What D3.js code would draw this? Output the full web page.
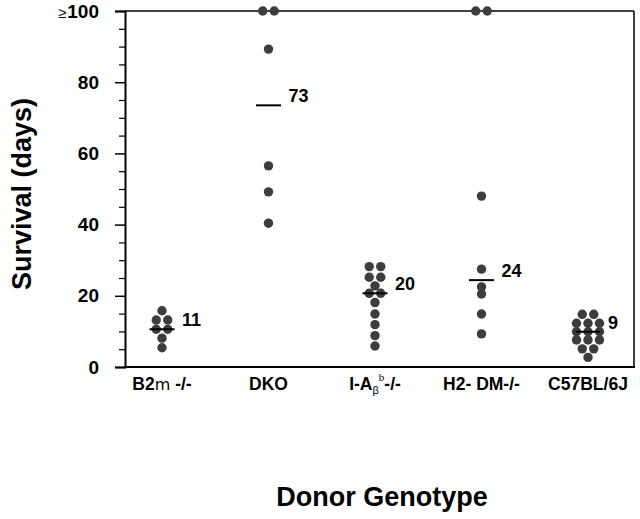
<!DOCTYPE html>
<html><head><meta charset="utf-8">
<script src="https://cdn.jsdelivr.net/npm/d3@7"></script>
<style>
body{margin:0;background:#fff}
svg text{font-family:"Liberation Sans",Arial,Helvetica,sans-serif;font-weight:bold;fill:#000}
</style>
</head><body>
<svg id="chart" width="640" height="519"></svg>
<script>
// ---- data ----
const categories = ["B2m -/-", "DKO", "I-Ab-/-", "H2- DM-/-", "C57BL/6J"];
const b2mValues  = [15.8, 13.2, 13.2, 10.6, 10.6, 8.1, 5.4];
const dkoValues  = [100, 100, 89.3, 56.5, 49.2, 40.4];
const iabValues  = [28.2, 28.2, 25.2, 25.2, 22.8, 20.7, 20.7, 18.1, 14.9, 11.9, 8.8, 5.9];
const h2dmValues = [100, 100, 48, 27.5, 22.5, 20.5, 14.9, 9.3];
const c57Values  = [14.8, 14.8, 12.3, 12.3, 12.3, 9.9, 9.9, 9.9, 7.6, 7.6, 7.6, 5.1, 5.1, 2.7];
const seriesValues = [b2mValues, dkoValues, iabValues, h2dmValues, c57Values];
const medianLine   = [10.6, 73.5, 20.7, 24.4, 9.9];
const medianLabels = ["11", "73", "20", "24", "9"];
const yTickValues  = [0, 20, 40, 60, 80, 100];
const yTickLabels  = ["0", "20", "40", "60", "80", "≥100"];
const yMinorTicks  = [5,10,15,25,30,35,45,50,55,65,70,75,85,90,95];

// ---- layout ----
const L = 125, R = 634, T = 11, B = 367;
const svg = d3.select("#chart");

const y = d3.scaleLinear().domain([0, 100]).range([B, T]);
const x = d3.scalePoint().domain(categories).range([162, 588]);

// frame
svg.append("line").attr("x1", L).attr("x2", R).attr("y1", T).attr("y2", T)
  .attr("stroke", "#000").attr("stroke-width", 1.5);
svg.append("line").attr("x1", R).attr("x2", R).attr("y1", T).attr("y2", B)
  .attr("stroke", "#000").attr("stroke-width", 1.5);
svg.append("line").attr("x1", L).attr("x2", R + 1).attr("y1", B).attr("y2", B)
  .attr("stroke", "#000").attr("stroke-width", 2);

// y axis major
const yAxis = d3.axisLeft(y).tickValues(yTickValues).tickSize(10).tickPadding(16)
  .tickFormat((d, i) => yTickLabels[i]);
const gy = svg.append("g").attr("transform", `translate(${L},0)`).call(yAxis);
gy.attr("font-family", null);
gy.select(".domain").attr("stroke-width", 2);
gy.selectAll(".tick line").attr("stroke-width", 1.5);
gy.selectAll(".tick text").attr("font-size", 19);
gy.selectAll(".tick text").filter((d) => d === 100).each(function() {
  const t = d3.select(this);
  const s = t.text();
  t.text(null);
  t.append("tspan").attr("font-size", 15).attr("font-weight", "normal").text(s.slice(0, 1));
  t.append("tspan").attr("dx", 1).text(s.slice(1));
});
// y axis minor
const yMinor = d3.axisLeft(y).tickValues(yMinorTicks).tickSize(6).tickFormat("");
const gm = svg.append("g").attr("transform", `translate(${L},0)`).call(yMinor);
gm.select(".domain").remove();
gm.selectAll(".tick line").attr("stroke-width", 1.2);

// dots
const spacing = 11.5;
seriesValues.forEach((vals, ci) => {
  const counts = d3.rollup(vals, v => v.length, d => d);
  const seen = new Map();
  const pts = vals.map(v => {
    const n = counts.get(v);
    const k = seen.get(v) || 0;
    seen.set(v, k + 1);
    return { v, dx: (k - (n - 1) / 2) * spacing };
  });
  svg.append("g").selectAll("circle").data(pts).join("circle")
    .attr("cx", d => x(categories[ci]) + d.dx)
    .attr("cy", d => y(d.v))
    .attr("r", 4.7)
    .attr("fill", "#3d3d3d");
});

// median lines + labels
categories.forEach((c, i) => {
  svg.append("line")
    .attr("x1", x(c) - 12.5).attr("x2", x(c) + 12.5)
    .attr("y1", y(medianLine[i])).attr("y2", y(medianLine[i]))
    .attr("stroke", "#000").attr("stroke-width", 2);
  svg.append("text")
    .attr("x", x(c) + 20).attr("y", y(medianLine[i]) - 3)
    .attr("font-size", 18).text(medianLabels[i]);
});

// category labels
const catY = 390;
const catG = svg.append("g").attr("font-size", 17.5).attr("text-anchor", "middle");
categories.forEach((c, i) => {
  const t = catG.append("text").attr("x", x(c)).attr("y", catY);
  if (i === 0) {
    t.append("tspan").text("B2");
    t.append("tspan").attr("font-weight", "normal").attr("font-family", "'DejaVu Sans'").attr("font-size", 16).text("m");
    t.append("tspan").text(" -/-");
  } else if (i === 2) {
    t.append("tspan").text("I-A");
    t.append("tspan").attr("font-weight", "normal").attr("font-size", 11).attr("dy", 4).text("β");
    t.append("tspan").attr("font-weight", "normal").attr("font-family", "'Liberation Serif'").attr("font-size", 11).attr("dy", -13).text("b");
    t.append("tspan").attr("dy", 9).text("-/-");
  } else {
    t.text(c);
  }
});

// axis titles
svg.append("text").attr("x", 382).attr("y", 506).attr("text-anchor", "middle")
  .attr("font-size", 27).text("Donor Genotype");
svg.append("text").attr("transform", "translate(31,194) rotate(-90)")
  .attr("text-anchor", "middle").attr("font-size", 27).text("Survival (days)");
</script>
</body></html>
